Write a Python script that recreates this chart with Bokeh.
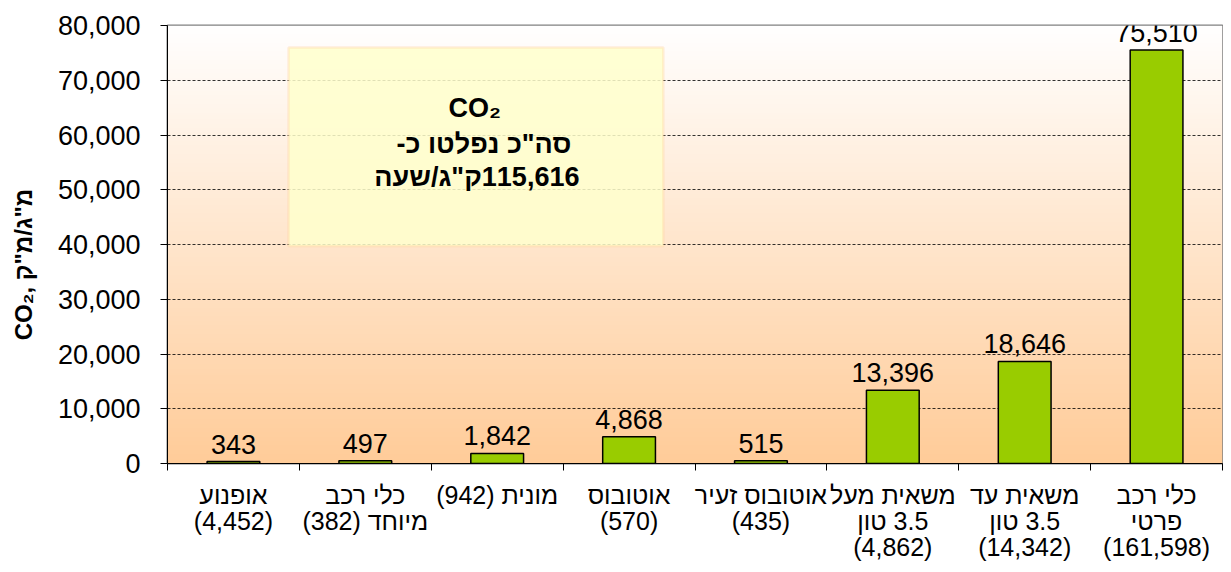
import numpy as np
from bokeh.plotting import figure
from bokeh.models import (ColumnDataSource, LabelSet, Label, BoxAnnotation,
                          FixedTicker, NumeralTickFormatter, Range1d)
from bokeh.core.properties import value
from bokeh.embed import file_html
from bokeh.resources import INLINE

# ---------------- data ----------------
categories = [
    "אופנוע\n(4,452)",
    "כלי רכב\nמיוחד (382)",
    "מונית (942)",
    "אוטובוס\n(570)",
    "אוטובוס זעיר\n(435)",
    "משאית מעל\n3.5 טון\n(4,862)",
    "משאית עד\n3.5 טון\n(14,342)",
    "כלי רכב\nפרטי\n(161,598)",
]
values = [343, 497, 1842, 4868, 515, 13396, 18646, 75510]
y_ticks = [0, 10000, 20000, 30000, 40000, 50000, 60000, 70000, 80000]
box_lines = ["CO₂", 'סה"כ נפלטו כ-', '115,616ק"ג/שעה']
y_label = 'CO₂, מ"ג/מ"ק'

FONT = "Liberation Sans"
RLM = "\u200f"


def rtl(s):
    return "\n".join(RLM + line + RLM for line in s.split("\n"))


idx = list(range(len(categories)))
boundaries = [i - 0.5 for i in range(len(categories) + 1)]

src = ColumnDataSource(dict(
    x=idx,
    top=values,
    label=["{:,}".format(v) for v in values],
))

p = figure(width=1223, height=564,
           x_range=Range1d(-0.5, len(categories) - 0.5),
           y_range=Range1d(0, y_ticks[-1]),
           output_backend="svg", toolbar_location=None,
           min_border_left=167, min_border_right=1,
           min_border_top=25, min_border_bottom=100)
p.background_fill_color = "white"
p.border_fill_color = "white"
p.outline_line_color = "#808080"
p.outline_line_width = 2

# gradient background of the plot area (white at top -> peach at bottom)
n = 200
t = np.linspace(0.0, 1.0, n)[:, None]
img = np.zeros((n, 1), dtype=np.uint32)
view = img.view(dtype=np.uint8).reshape((n, 1, 4))
view[..., 0] = 255
view[..., 1] = (204 + (255 - 204) * t).astype(np.uint8)
view[..., 2] = (153 + (255 - 153) * t).astype(np.uint8)
view[..., 3] = 255
p.image_rgba(image=[img], x=-0.5, y=0, dw=len(categories), dh=y_ticks[-1],
             level="image")

# bars
p.vbar(x="x", top="top", width=0.4, source=src,
       fill_color="#99CC00", line_color="black", line_width=1.5)

# value labels
p.add_layout(LabelSet(x="x", y="top", text="label", source=src,
                      y_offset=8, text_align="center", text_baseline="bottom",
                      text_font=value(FONT), text_font_size="27px",
                      text_color="black"))

# text box
p.add_layout(BoxAnnotation(left=0.418, right=3.26, bottom=39700, top=76000,
                           fill_color="#FFFFCC", fill_alpha=0.85,
                           line_color="#FFCC99", line_width=2.5,
                           level="annotation"))
box_y = [64900, 58300, 52400]
box_x = [1.83, 1.90, 1.84]
for txt, bx, by in zip(box_lines, box_x, box_y):
    p.add_layout(Label(x=bx, y=by, text=rtl(txt) if txt != "CO₂" else txt,
                       text_align="center", text_baseline="middle",
                       text_font=FONT, text_font_size="27px",
                       text_font_style="bold", text_color="black"))

# axes
p.yaxis.ticker = FixedTicker(ticks=y_ticks)
p.yaxis.formatter = NumeralTickFormatter(format="0,0")
p.yaxis.major_label_text_font = FONT
p.yaxis.major_label_text_font_size = "27px"
p.yaxis.major_label_text_color = "black"
p.yaxis.major_tick_out = 7
p.yaxis.major_tick_in = 0
p.yaxis.minor_tick_line_color = None
p.yaxis.major_label_standoff = 20
p.yaxis.axis_line_color = "black"
p.yaxis.major_tick_line_color = "black"
p.yaxis.axis_label = y_label + "\u00a0" * 6
p.yaxis.axis_label_text_font = FONT
p.yaxis.axis_label_text_font_size = "24px"
p.yaxis.axis_label_text_font_style = "bold"
p.yaxis.axis_label_text_color = "black"
p.yaxis.axis_label_standoff = 18

p.xaxis.ticker = FixedTicker(ticks=idx, minor_ticks=boundaries)
p.xaxis.major_label_overrides = {i: rtl(c) for i, c in zip(idx, categories)}
p.xaxis.major_label_text_font = FONT
p.xaxis.major_label_text_font_size = "25px"
p.xaxis.major_label_text_color = "black"
p.xaxis.major_label_text_line_height = 0.94
p.xaxis.major_tick_line_color = None
p.xaxis.major_tick_out = 0
p.xaxis.major_tick_in = 0
p.xaxis.minor_tick_in = 0
p.xaxis.minor_tick_out = 7
p.xaxis.minor_tick_line_color = "black"
p.xaxis.major_label_standoff = 10
p.xaxis.axis_line_color = "black"

p.xgrid.visible = False
p.ygrid.ticker = FixedTicker(ticks=y_ticks[1:])
p.ygrid.grid_line_color = "black"
p.ygrid.grid_line_dash = "3 2"
p.ygrid.grid_line_width = 1
p.ygrid.grid_line_alpha = 0.8

open("out.html", "w").write(file_html(p, INLINE))
